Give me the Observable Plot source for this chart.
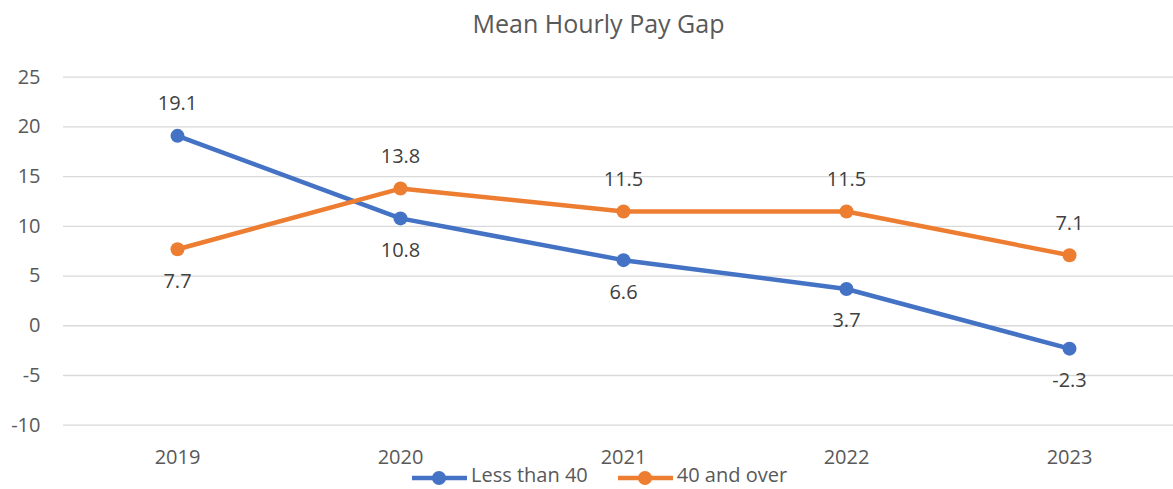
<!DOCTYPE html>
<html><head><meta charset="utf-8">
<script src="https://cdn.jsdelivr.net/npm/d3@7"></script>
<script src="https://cdn.jsdelivr.net/npm/@observablehq/plot@0.6"></script>
<style>
body{margin:0;background:#fff;font-family:"Open Sans",sans-serif;color:#595959;}
#wrap{position:relative;width:1173px;height:489px;overflow:hidden;background:#fff;}
#title{height:50px;line-height:46px;font-size:25px;text-align:center;padding-left:24px;}
#chart svg{display:block;}
#legend{position:absolute;left:412px;top:465px;height:20px;display:flex;align-items:center;font-size:20px;line-height:20px;}
.item{display:flex;align-items:center;margin-right:30px;}
.item svg{display:block;margin-right:4px;position:relative;top:3px;}
</style>
</head><body>
<div id="wrap">
  <div id="title">Mean Hourly Pay Gap</div>
  <div id="chart"></div>
  <div id="legend"></div>
</div>
<script>
const years = ["2019", "2020", "2021", "2022", "2023"];
const lessThan40 = [19.1, 10.8, 6.6, 3.7, -2.3];
const fortyAndOver = [7.7, 13.8, 11.5, 11.5, 7.1];
const seriesNames = ["Less than 40", "40 and over"];
const seriesColors = ["#4472C4", "#ED7D31"];
const yTicks = [-10, -5, 0, 5, 10, 15, 20, 25];

const seriesValues = [lessThan40, fortyAndOver];
const rows = seriesValues.flatMap((vals, si) => vals.map((v, i) => ({
  year: years[i],
  value: v,
  series: seriesNames[si],
  above: v > seriesValues[1 - si][i]
})));

const chart = Plot.plot({
  width: 1173,
  height: 418,
  marginLeft: 63,
  marginRight: 0,
  marginTop: 26.7,
  marginBottom: 43.3,
  style: {fontFamily: "'Open Sans', sans-serif", fontSize: "20px", color: "#595959", background: "white", overflow: "visible"},
  x: {type: "point", domain: years, range: [175.5, 1071], padding: 0, label: null},
  y: {domain: [-10, 25], label: null},
  color: {domain: seriesNames, range: seriesColors},
  marks: [
    Plot.gridY(yTicks, {stroke: "#d9d9d9", strokeOpacity: 1, strokeWidth: 1.3}),
    Plot.axisY(yTicks, {tickSize: 0, tickPadding: 23, fontSize: 20, label: null, tickFormat: d => String(d)}),
    Plot.axisX({tickSize: 0, tickPadding: 25, fontSize: 20, label: null}),
    Plot.line(rows, {x: "year", y: "value", z: "series", stroke: "series", strokeWidth: 4.5}),
    Plot.dot(rows, {x: "year", y: "value", fill: "series", r: 7}),
    Plot.text(rows.filter(d => d.above), {x: "year", y: "value", text: d => d.value.toFixed(1), dy: -32, fill: "#404040", fontSize: 20}),
    Plot.text(rows.filter(d => !d.above), {x: "year", y: "value", text: d => d.value.toFixed(1), dy: 32, fill: "#404040", fontSize: 20})
  ]
});
document.getElementById("chart").appendChild(chart);

const legend = document.getElementById("legend");
seriesNames.forEach((name, i) => {
  const item = document.createElement("div");
  item.className = "item";
  const ns = "http://www.w3.org/2000/svg";
  const s = document.createElementNS(ns, "svg");
  s.setAttribute("width", 55); s.setAttribute("height", 20);
  const l = document.createElementNS(ns, "line");
  l.setAttribute("x1", 0); l.setAttribute("x2", 55); l.setAttribute("y1", 10); l.setAttribute("y2", 10);
  l.setAttribute("stroke", seriesColors[i]); l.setAttribute("stroke-width", 4.5);
  const c = document.createElementNS(ns, "circle");
  c.setAttribute("cx", 27); c.setAttribute("cy", 10); c.setAttribute("r", 7); c.setAttribute("fill", seriesColors[i]);
  s.appendChild(l); s.appendChild(c);
  const t = document.createElement("span");
  t.textContent = name;
  item.appendChild(s); item.appendChild(t);
  legend.appendChild(item);
});
</script>
</body></html>
